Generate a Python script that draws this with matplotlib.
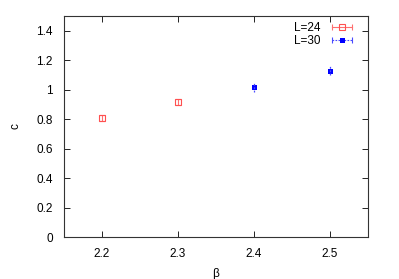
import matplotlib
matplotlib.use("Agg")
import matplotlib.pyplot as plt
from matplotlib.lines import Line2D
from matplotlib.legend_handler import HandlerBase
from matplotlib.container import ErrorbarContainer

beta_24 = [2.2, 2.3]
c_24 = [0.81, 0.915]
err_24 = [0.02, 0.02]

beta_30 = [2.4, 2.5]
c_30 = [1.016, 1.13]
err_30 = [0.032, 0.032]

plt.rcParams['font.family'] = ['Liberation Sans', 'DejaVu Sans']
plt.rcParams['font.size'] = 8.5

DOTS = (0, (1.5, 1.2))


class HandlerXErr(HandlerBase):
    # gnuplot style key sample: horizontal error bar with marker in the middle
    def create_artists(self, legend, orig_handle, xdescent, ydescent, width,
                       height, fontsize, trans):
        data_line = orig_handle[0]
        coll = orig_handle[2][0]
        ecol = coll.get_colors()[0]
        ls = DOTS if orig_handle.get_label() == 'L=30' else '-'
        y = height / 2 - ydescent
        x0, x1 = -xdescent, -xdescent + width
        bar = Line2D([x0, x1], [y, y], color=ecol, ls=ls, lw=0.8)
        caps = Line2D([x0, x1], [y, y], color=ecol, ls='none', marker='|',
                      ms=5, mew=0.8)
        mk = Line2D([(x0 + x1) / 2], [y], ls='none', marker='s',
                    ms=data_line.get_markersize(),
                    mfc=data_line.get_markerfacecolor(),
                    mec=data_line.get_markeredgecolor(),
                    mew=data_line.get_markeredgewidth())
        for a in (bar, caps, mk):
            a.set_transform(trans)
        return [bar, caps, mk]


fig = plt.figure(figsize=(3.99, 2.79), dpi=100)
ax = fig.add_axes([64 / 399, 1 - 237 / 279, (368 - 64) / 399, (237 - 16) / 279])

e1 = ax.errorbar(beta_24, c_24, yerr=err_24, fmt='s', color='#ff5050', mfc='none',
                 mec='#ff5050', ms=4, mew=0.8, elinewidth=0.8, capsize=2.5,
                 capthick=0.8, ecolor='#ff7070', label='L=24')
e2 = ax.errorbar(beta_30, c_30, yerr=err_30, fmt='s', color='#0000ff', mfc='#0000ff',
                 mec='#0000ff', ms=3.6, mew=0, elinewidth=0.9, capsize=2.5,
                 capthick=1.0, ecolor='#4a4aff', label='L=30')
e2[2][0].set_linestyle(DOTS)
for cap in e2[1]:
    cap.set_zorder(3)
e2[2][0].set_zorder(3)

ax.set_xlim(2.15, 2.55)
ax.set_ylim(0, 1.5)
ax.set_xticks([2.2, 2.3, 2.4, 2.5])
ax.set_xticklabels(['2.2', '2.3', '2.4', '2.5'])
ax.set_yticks([0, 0.2, 0.4, 0.6, 0.8, 1.0, 1.2, 1.4])
ax.set_yticklabels(['0', '0.2', '0.4', '0.6', '0.8', '1', '1.2', '1.4'])
ax.tick_params(direction='in', top=True, right=True, length=4, width=0.6, pad=8)
for s in ax.spines.values():
    s.set_linewidth(0.8)
    s.set_color('#333333')

ax.set_xlabel('β', labelpad=6)
ax.set_ylabel('c', labelpad=11)

ax.legend(handles=[e1, e2], loc='upper right', bbox_to_anchor=(0.947, 0.972),
          frameon=False, markerfirst=False,
          handlelength=1.7, handletextpad=0.95, borderaxespad=0,
          labelspacing=0.05, borderpad=0,
          handler_map={ErrorbarContainer: HandlerXErr()})

fig.savefig('out.png', dpi=100)
